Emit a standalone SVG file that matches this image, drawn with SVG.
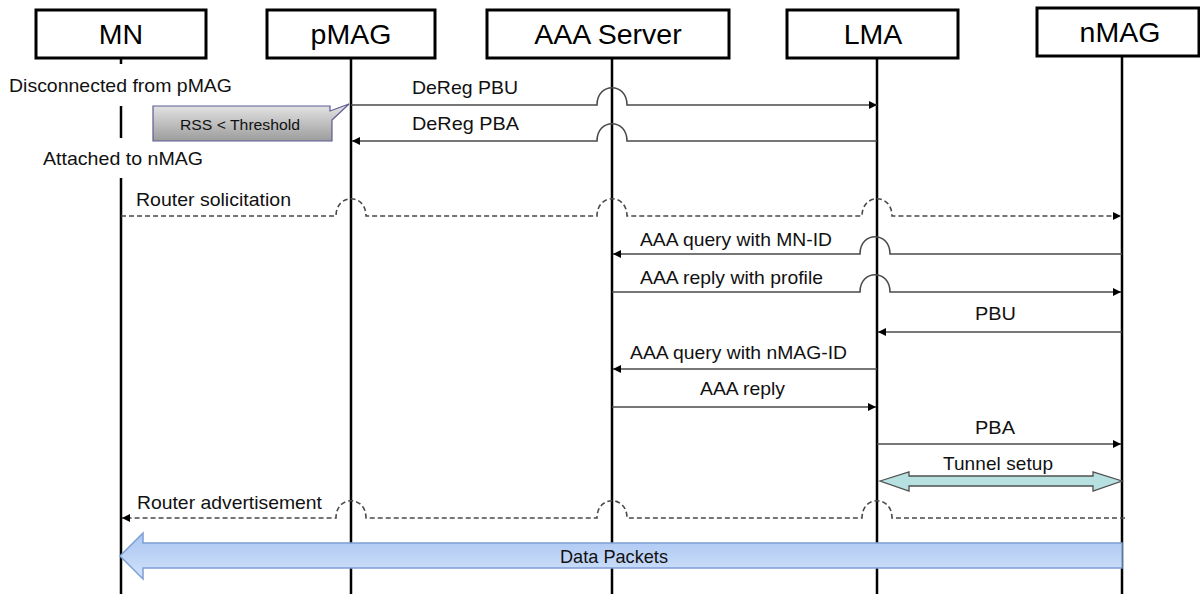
<svg xmlns="http://www.w3.org/2000/svg" width="1200" height="594" viewBox="0 0 1200 594">
  <defs>
    <style>
      .box { fill: #ffffff; stroke: #000000; stroke-width: 3; }
      .head { font-family: "Liberation Sans", Arial, sans-serif; font-size: 28.5px; fill: #000000; text-anchor: middle; }
      .life { stroke: #000000; stroke-width: 2.5; fill: none; }
      .msg { stroke: #4a4a4a; stroke-width: 1.6; fill: none; }
      .dash { stroke: #4a4a4a; stroke-width: 1.6; fill: none; stroke-dasharray: 5 3; }
      .lbl { font-family: "Liberation Sans", Arial, sans-serif; font-size: 19px; fill: #111111; }
    </style>
    <marker id="arr" viewBox="0 0 10 10" refX="10" refY="5" markerWidth="10" markerHeight="8" markerUnits="userSpaceOnUse" orient="auto">
      <path d="M0,0 L10,5 L0,10 Z" fill="#000000"/>
    </marker>
    <linearGradient id="gNote" x1="0" y1="0" x2="0" y2="1">
      <stop offset="0" stop-color="#e6e6e6"/>
      <stop offset="1" stop-color="#9c9c9c"/>
    </linearGradient>
    <linearGradient id="gData" x1="0" y1="0" x2="0" y2="1">
      <stop offset="0" stop-color="#a9c5f1"/>
      <stop offset="1" stop-color="#d2e2fb"/>
    </linearGradient>
  </defs>

  <!-- Participants -->
  <g id="node-mn">
    <rect class="box" x="36" y="10" width="170" height="48"/>
    <text class="head" x="121" y="44">MN</text>
  </g>
  <g id="node-pmag">
    <rect class="box" x="267" y="10" width="168" height="48"/>
    <text class="head" x="351" y="44">pMAG</text>
  </g>
  <g id="node-aaa">
    <rect class="box" x="487" y="10" width="242" height="48"/>
    <text class="head" x="608" y="44">AAA Server</text>
  </g>
  <g id="node-lma">
    <rect class="box" x="787" y="10" width="171" height="48"/>
    <text class="head" x="873" y="44">LMA</text>
  </g>
  <g id="node-nmag">
    <rect class="box" x="1037" y="8" width="162" height="48"/>
    <text class="head" x="1120" y="42">nMAG</text>
  </g>

  <!-- Lifelines -->
  <g id="lifelines">
    <line class="life" x1="121" y1="58" x2="121" y2="64"/>
    <line class="life" x1="121" y1="106" x2="121" y2="138"/>
    <line class="life" x1="121" y1="178" x2="121" y2="594"/>
    <line class="life" x1="351" y1="58" x2="351" y2="594"/>
    <line class="life" x1="612" y1="58" x2="612" y2="594"/>
    <line class="life" x1="877" y1="58" x2="877" y2="594"/>
    <line class="life" x1="1122" y1="56" x2="1122" y2="594"/>
  </g>

  <!-- MN state notes -->
  <g id="mn-notes">
    <text class="lbl" x="9" y="92" textLength="223" lengthAdjust="spacingAndGlyphs">Disconnected from pMAG</text>
    <text class="lbl" x="43" y="165" textLength="160" lengthAdjust="spacingAndGlyphs">Attached to nMAG</text>
  </g>

  <!-- Handover trigger callout -->
  <g id="node-rss">
    <path d="M153,106 L330,106 L330,111 L349,104 L332,120 L332,141 L153,141 Z" fill="url(#gNote)" stroke="#5c5c96" stroke-width="1.2"/>
    <text x="180" y="130" font-family="Liberation Sans, Arial, sans-serif" font-size="15.5px" fill="#111111" textLength="120" lengthAdjust="spacingAndGlyphs">RSS &lt; Threshold</text>
  </g>

  <!-- Messages -->
  <g id="connectors">
    <!-- DeReg PBU: pMAG -> LMA, hop over AAA -->
    <path class="msg" marker-end="url(#arr)" d="M351,105 L597,105 C597,82 627,82 627,105 L877,105"/>
    <text class="lbl" x="412" y="94" textLength="106" lengthAdjust="spacingAndGlyphs">DeReg PBU</text>

    <!-- DeReg PBA: LMA -> pMAG -->
    <path class="msg" marker-end="url(#arr)" d="M877,141 L627,141 C627,118 597,118 597,141 L352,141"/>
    <text class="lbl" x="412" y="130" textLength="107" lengthAdjust="spacingAndGlyphs">DeReg PBA</text>

    <!-- Router solicitation: MN -> nMAG (dashed) -->
    <path class="dash" marker-end="url(#arr)" d="M121,216 L336,216 C336,193 366,193 366,216 L597,216 C597,193 627,193 627,216 L862,216 C862,193 892,193 892,216 L1121,216"/>
    <text class="lbl" x="136" y="206" textLength="155" lengthAdjust="spacingAndGlyphs">Router solicitation</text>

    <!-- AAA query with MN-ID: nMAG -> AAA -->
    <path class="msg" marker-end="url(#arr)" d="M1122,254 L890,254 C890,231 860,231 860,254 L613,254"/>
    <text class="lbl" x="640" y="246" textLength="192" lengthAdjust="spacingAndGlyphs">AAA query with MN-ID</text>

    <!-- AAA reply with profile: AAA -> nMAG -->
    <path class="msg" marker-end="url(#arr)" d="M612,292 L860,292 C860,269 890,269 890,292 L1121,292"/>
    <text class="lbl" x="640" y="284" textLength="183" lengthAdjust="spacingAndGlyphs">AAA reply with profile</text>

    <!-- PBU: nMAG -> LMA -->
    <line class="msg" marker-end="url(#arr)" x1="1122" y1="332" x2="878" y2="332"/>
    <text class="lbl" x="975" y="320" textLength="41" lengthAdjust="spacingAndGlyphs">PBU</text>

    <!-- AAA query with nMAG-ID: LMA -> AAA -->
    <line class="msg" marker-end="url(#arr)" x1="877" y1="369" x2="613" y2="369"/>
    <text class="lbl" x="630" y="359" textLength="217" lengthAdjust="spacingAndGlyphs">AAA query with nMAG-ID</text>

    <!-- AAA reply: AAA -> LMA -->
    <line class="msg" marker-end="url(#arr)" x1="612" y1="407" x2="876" y2="407"/>
    <text class="lbl" x="700" y="395" textLength="85" lengthAdjust="spacingAndGlyphs">AAA reply</text>

    <!-- PBA: LMA -> nMAG -->
    <line class="msg" marker-end="url(#arr)" x1="877" y1="444" x2="1121" y2="444"/>
    <text class="lbl" x="975" y="434" textLength="40" lengthAdjust="spacingAndGlyphs">PBA</text>

    <!-- Tunnel setup: LMA <-> nMAG -->
    <path d="M880,481 L909,472 L909,476 L1093,476 L1093,472 L1122,481 L1093,491 L1093,486 L909,486 L909,491 Z" fill="#b7e1e1" stroke="#505050" stroke-width="1.3"/>
    <text class="lbl" x="943" y="470" textLength="110" lengthAdjust="spacing">Tunnel  setup</text>

    <!-- Router advertisement: nMAG -> MN (dashed) -->
    <path class="dash" marker-end="url(#arr)" d="M1125,518 L892,518 C892,495 862,495 862,518 L627,518 C627,495 597,495 597,518 L366,518 C366,495 336,495 336,518 L122,518"/>
    <text class="lbl" x="137" y="509" textLength="185" lengthAdjust="spacingAndGlyphs">Router advertisement</text>

    <!-- Data Packets: nMAG -> MN -->
    <path d="M1122,543 L143,543 L143,533 L120,556 L143,579 L143,568 L1122,568 Z" fill="url(#gData)" stroke="#7e9fd6" stroke-width="1.5"/>
    <text class="lbl" x="560" y="563" font-size="18px" textLength="108" lengthAdjust="spacingAndGlyphs">Data Packets</text>
  </g>
</svg>
